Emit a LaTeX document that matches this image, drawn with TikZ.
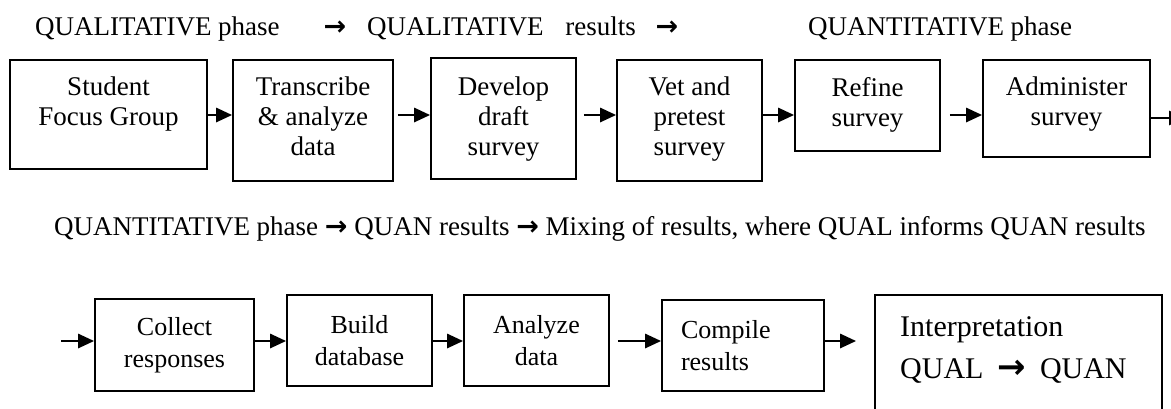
\documentclass[tikz,border=0pt]{standalone}
\usepackage{fontspec}
\setmainfont{Liberation Serif}
\newfontfamily\arrowfont{DejaVu Sans}
\usetikzlibrary{arrows.meta}
\newcommand{\qarrow}{{\arrowfont\bfseries →}}

\begin{document}
\begin{tikzpicture}[x=1pt, y=-1pt, font=\fontsize{27}{30}\selectfont,
	frame/.style={draw, line width=1.7pt, inner sep=0pt},
	inside/.style={align=center, inner sep=0pt, anchor=north},
	lower/.style={frame, align=center, font=\fontsize{26}{32}\selectfont},
	heading/.style={anchor=base west, inner sep=0pt},
	flow/.style={-{Triangle[length=16pt, width=14pt]}, line width=2.8pt}]
	\useasboundingbox (0,0) rectangle (1171,408);
	
	% phase headings
	\node[heading] (qualphase) at (35,35) {QUALITATIVE phase};
	\node[anchor=base, inner sep=0pt] (arrowa) at (335,35) {\qarrow};
	\node[heading] (qualres) at (367,35) {QUALITATIVE\hspace{22pt}results};
	\node[anchor=base, inner sep=0pt] (arrowb) at (667,35) {\qarrow};
	\node[heading] (quanphase) at (808,35) {QUANTITATIVE phase};
	\node[heading] (mixing) at (54,235) {QUANTITATIVE phase \qarrow{} QUAN results \qarrow{} Mixing of results, where QUAL informs QUAN results};
	
	% first row
	\coordinate (row1) at (0,115);
	\coordinate (top1) at (0,77);
	\node[frame, minimum width=197pt, minimum height=109pt] (focus) at (108.5,114.5) {};
	\node[frame, minimum width=160pt, minimum height=121pt] (transcribe) at (313,120.5) {};
	\node[frame, minimum width=145pt, minimum height=121pt] (develop) at (503.5,118.5) {};
	\node[frame, minimum width=145pt, minimum height=121pt] (vet) at (689.5,120.5) {};
	\node[frame, minimum width=145pt, minimum height=91pt] (refine) at (867.5,105.5) {};
	\node[frame, minimum width=167pt, minimum height=97pt] (administer) at (1066.5,108.5) {};
	\coordinate (exit) at (1185,118);
	
	\node[inside] (focustxt) at (focus.north |- top1) {Student\\Focus Group};
	\node[inside] (transcribetxt) at (transcribe.north |- top1) {Transcribe\\\& analyze\\data};
	\node[inside] (developtxt) at (develop.north |- top1) {Develop\\draft\\survey};
	\node[inside] (vettxt) at (vet.north |- top1) {Vet and\\pretest\\survey};
	\node[inside] (refinetxt) at (refine.north |- top1) {Refine\\survey};
	\node[inside] (administertxt) at (administer.north |- top1) {Administer\\survey};
	
	\path [flow] (focus.east |- row1) edge (transcribe.west |- row1);
	\path [flow, shorten <=4pt] (transcribe.east |- row1) edge (develop.west |- row1);
	\path [flow, shorten <=7pt] (develop.east |- row1) edge (vet.west |- row1);
	\path [flow] (vet.east |- row1) edge (refine.west |- row1);
	\path [flow, shorten <=9pt] (refine.east |- row1) edge (administer.west |- row1);
	\path [flow] (administer.east |- exit) edge (exit);
	
	% second row
	\coordinate (row2) at (0,341);
	\coordinate (entry) at (61,341);
	\node[lower, minimum width=159pt, minimum height=92pt] (collect) at (174.5,345) {Collect\\responses};
	\node[lower, minimum width=145pt, minimum height=91pt] (build) at (359.5,340.5) {Build\\database};
	\node[lower, minimum width=145pt, minimum height=91pt] (analyze) at (536.5,340.5) {Analyze\\data};
	\node[lower, minimum width=162pt, minimum height=91pt, text width=124pt, align=left] (compile) at (743,345.5) {Compile\\results};
	\node[frame, minimum width=287pt, minimum height=145pt] (interp) at (1018.5,367.5) {};
	\node[anchor=north west, align=left, inner sep=0pt, font=\fontsize{30}{42}\selectfont] (interptxt) at (900,316) {Interpretation\\QUAL\hspace{14pt}{\fontsize{34}{42}\selectfont\qarrow}\hspace{14pt}QUAN};
	
	\path [flow] (entry) edge (collect.west |- row2);
	\path [flow] (collect.east |- row2) edge (build.west |- row2);
	\path [flow] (build.east |- row2) edge (analyze.west |- row2);
	\path [flow, shorten <=8pt] (analyze.east |- row2) edge (compile.west |- row2);
	\path [flow, shorten >=18pt] (compile.east |- row2) edge (interp.west |- row2);
\end{tikzpicture}
\end{document}
